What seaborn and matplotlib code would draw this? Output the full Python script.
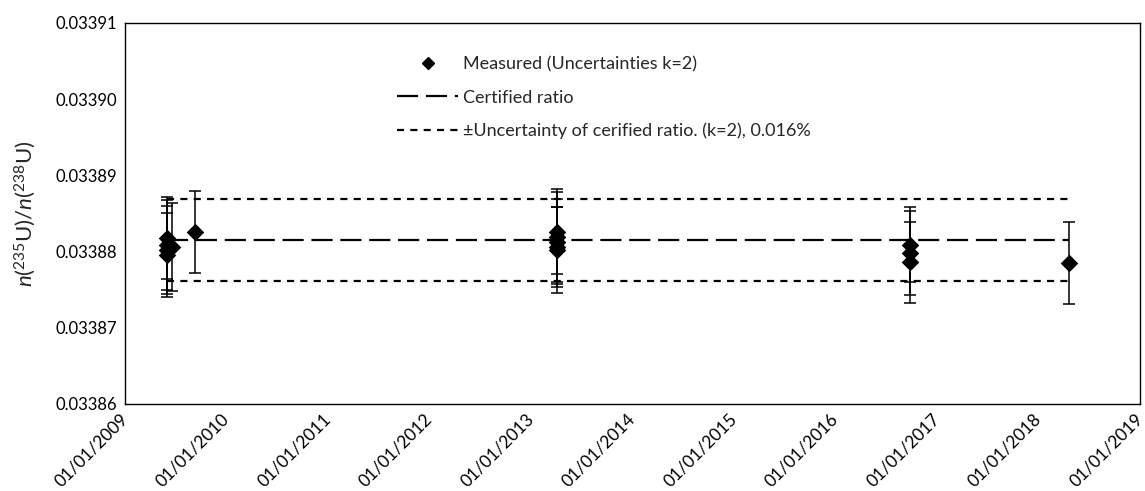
import pandas as pd
import numpy as np
import matplotlib
matplotlib.use("Agg")
import matplotlib.pyplot as plt
import matplotlib.dates as mdates
from matplotlib.lines import Line2D
import seaborn as sns

# measurement dates, ratios and expanded uncertainties (k=2)
dates = pd.to_datetime([
    "2009-06-01", "2009-06-01", "2009-06-01", "2009-06-01", "2009-06-20",
    "2009-09-10",
    "2013-04-04", "2013-04-04", "2013-04-04", "2013-04-04", "2013-04-04",
    "2016-09-24", "2016-09-24", "2016-09-24",
    "2018-04-22",
])
ratio = [0.0338818, 0.0338809, 0.0338802, 0.0338796, 0.0338806,
         0.0338826,
         0.0338826, 0.0338819, 0.0338813, 0.0338806, 0.0338802,
         0.0338809, 0.0338798, 0.0338786,
         0.0338785]
unc = [0.0000054, 0.0000059, 0.0000058, 0.0000055, 0.0000058,
       0.0000054,
       0.0000056, 0.0000059, 0.0000056, 0.0000053, 0.0000056,
       0.0000049, 0.0000055, 0.0000053,
       0.0000054]

certified = 0.0338815
cert_unc = 0.0000054

df = pd.DataFrame({"date": dates, "ratio": ratio, "unc": unc})

sns.set_style("white")
plt.rcParams["font.family"] = ["Lato", "DejaVu Sans"]
plt.rcParams["mathtext.fontset"] = "custom"
plt.rcParams["mathtext.rm"] = "Lato"
plt.rcParams["mathtext.it"] = "Lato:italic"

fig = plt.figure(figsize=(11.45, 4.91), dpi=100)
ax = fig.add_axes([0.1092, 0.1772, 0.8864, 0.776])

span = [df["date"].min(), df["date"].max()]
lw = 1.6
long_dash = (9.5, 3.5)
short_dash = (3.2, 2.8)
ax.plot(span, [certified, certified], color="black", lw=lw, dashes=long_dash)
ax.plot(span, [certified + cert_unc] * 2, color="black", lw=lw, dashes=short_dash)
ax.plot(span, [certified - cert_unc] * 2, color="black", lw=lw, dashes=short_dash)

ax.errorbar(df["date"], df["ratio"], yerr=df["unc"], fmt="none",
            ecolor="black", elinewidth=1.1, capsize=4.5, capthick=1.1, zorder=3)
sns.scatterplot(data=df, x="date", y="ratio", marker="D", s=80, color="black",
                edgecolor="black", linewidth=0, ax=ax, zorder=4, legend=False)

ax.set_xlim(pd.Timestamp("2009-01-01"), pd.Timestamp("2019-01-01"))
ax.set_ylim(0.03386, 0.03391)
ax.set_yticks(np.arange(0.03386, 0.033915, 0.00001))
ax.yaxis.set_major_formatter(matplotlib.ticker.FormatStrFormatter("%.5f"))
ax.xaxis.set_major_locator(mdates.YearLocator())
ax.xaxis.set_major_formatter(mdates.DateFormatter("%d/%m/%Y"))

ax.tick_params(axis="both", direction="in", length=5, width=0.9,
               labelsize=12, colors="black", pad=6)
ax.tick_params(axis="x", labelsize=12.5, pad=9)
for lab in ax.get_xticklabels():
    lab.set_rotation(45)
    lab.set_ha("right")
    lab.set_va("center")
    lab.set_rotation_mode("anchor")

ax.set_xlabel("")
ax.set_ylabel(r"$\it{n}$($^{235}$U)/$\it{n}$($^{238}$U)", fontsize=16, labelpad=12)
for s in ax.spines.values():
    s.set_color("black")
    s.set_linewidth(1.0)

handles = [
    Line2D([], [], marker="D", ls="none", color="black", markersize=6.5),
    Line2D([], [], color="black", lw=lw, dashes=long_dash),
    Line2D([], [], color="black", lw=lw, dashes=short_dash),
]
labels = ["Measured (Uncertainties k=2)", "Certified ratio",
          "\u00b1Uncertainty of cerified ratio. (k=2), 0.016%"]
ax.legend(handles, labels, loc="upper left", bbox_to_anchor=(0.252, 0.955),
          frameon=False, fontsize=13, handlelength=3.4, handletextpad=0.25,
          labelspacing=0.95)

fig.savefig("out.png", dpi=100)
